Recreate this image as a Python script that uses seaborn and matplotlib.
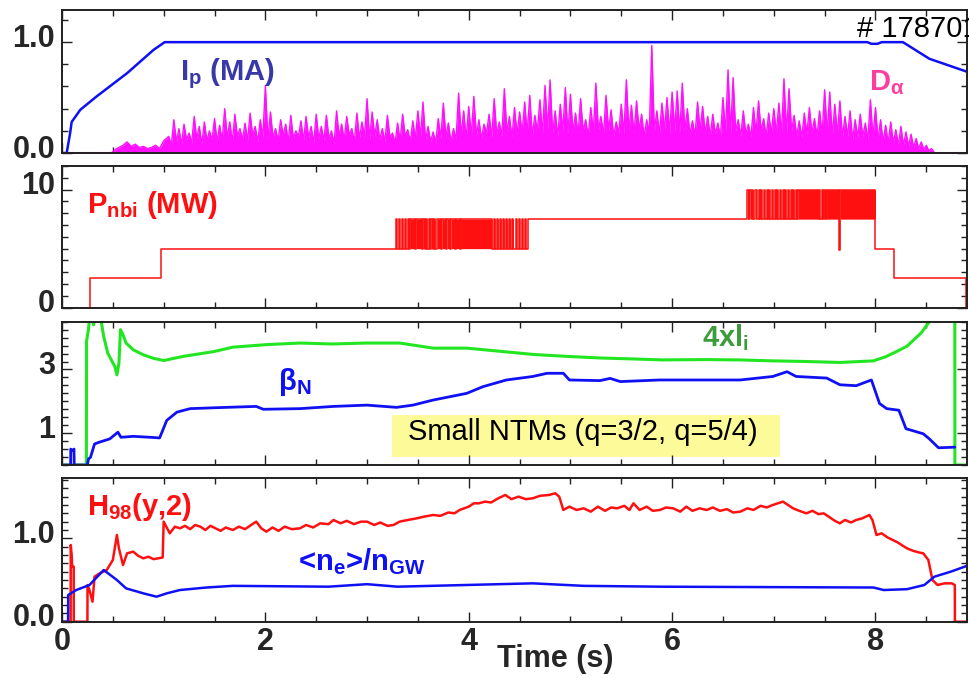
import numpy as np
import matplotlib
matplotlib.use("Agg")
import matplotlib.pyplot as plt
import matplotlib.transforms as mtransforms
from matplotlib.patches import Rectangle
from matplotlib.ticker import FixedLocator, MultipleLocator
import seaborn as sns

# ---------------------------------------------------------------- data
# Plasma current (MA)
ip_t = [0.0, 0.046, 0.08, 0.095, 0.18, 0.34, 0.64, 0.90, 1.01, 1.5, 2.5, 3.5,
        4.5, 5.5, 6.5, 7.5, 7.92, 7.96, 8.02, 8.06, 8.27, 8.53, 8.91]
ip_v = [0.0, 0.0, 0.18, 0.28, 0.39, 0.51, 0.72, 0.93, 1.0, 1.0, 1.0, 1.0,
        1.0, 1.0, 1.0, 1.0, 1.0, 0.985, 0.985, 1.0, 1.0, 0.85, 0.73]

# D-alpha: quiet start, ELM spikes sampled every 50 ms, quiet end
da_pre_t = [0.0, 0.49, 0.52, 0.56, 0.60, 0.64, 0.68, 0.72, 0.76, 0.80, 0.84,
            0.88, 0.92, 0.96, 1.00]
da_pre_v = [0.003, 0.003, 0.03, 0.05, 0.07, 0.10, 0.06, 0.08, 0.05, 0.06, 0.04,
            0.05, 0.07, 0.04, 0.11]
da_spike_t0 = 1.05
da_spike_dt = 0.05
da_peaks = [
    0.15, 0.30, 0.22, 0.26, 0.18, 0.33, 0.24, 0.28, 0.20, 0.31,
    0.25, 0.40, 0.28, 0.35, 0.22, 0.27, 0.36, 0.24, 0.30, 0.61,
    0.37, 0.22, 0.30, 0.26, 0.34, 0.20, 0.29, 0.33, 0.24, 0.35,
    0.24, 0.34, 0.20, 0.38, 0.26, 0.33, 0.22, 0.36, 0.28, 0.49,
    0.37, 0.30, 0.22, 0.34, 0.18, 0.27, 0.35, 0.21, 0.29, 0.38,
    0.46, 0.24, 0.19, 0.31, 0.45, 0.27, 0.22, 0.54, 0.38, 0.42,
    0.51, 0.30, 0.26, 0.35, 0.49, 0.28, 0.58, 0.33, 0.41, 0.37,
    0.46, 0.52, 0.34, 0.48, 0.61, 0.66, 0.38, 0.44, 0.59, 0.53,
    0.36, 0.49, 0.30, 0.41, 0.63, 0.33, 0.52, 0.39, 0.28, 0.44,
    0.66, 0.43, 0.47, 0.35, 0.30, 0.97, 0.38, 0.45, 0.50, 0.55,
    0.56, 0.63, 0.40, 0.29, 0.46, 0.42, 0.33, 0.35, 0.27, 0.50,
    0.75, 0.68, 0.30, 0.38, 0.26, 0.41, 0.47, 0.31, 0.36, 0.40,
    0.45, 0.67, 0.58, 0.34, 0.29, 0.36, 0.41, 0.31, 0.38, 0.57,
    0.55, 0.44, 0.47, 0.33, 0.38, 0.30, 0.35, 0.27, 0.48, 0.41,
    0.30, 0.25, 0.28, 0.21, 0.24, 0.19, 0.17, 0.13, 0.10, 0.07,
]
da_troughs = [
    0.07, 0.10, 0.08, 0.12, 0.09, 0.13, 0.08, 0.11, 0.12, 0.10,
    0.11, 0.14, 0.10, 0.15, 0.12, 0.11, 0.16, 0.10, 0.14, 0.12,
    0.14, 0.11, 0.16, 0.10, 0.13, 0.15, 0.11, 0.14, 0.09, 0.13,
    0.11, 0.13, 0.08, 0.15, 0.12, 0.16, 0.10, 0.13, 0.15, 0.12,
    0.15, 0.12, 0.10, 0.14, 0.09, 0.11, 0.15, 0.10, 0.13, 0.14,
    0.12, 0.10, 0.09, 0.13, 0.15, 0.10, 0.12, 0.16, 0.13, 0.15,
    0.16, 0.13, 0.18, 0.14, 0.17, 0.15, 0.19, 0.14, 0.17, 0.18,
    0.18, 0.15, 0.20, 0.17, 0.21, 0.18, 0.15, 0.20, 0.17, 0.19,
    0.17, 0.20, 0.15, 0.19, 0.21, 0.17, 0.20, 0.15, 0.18, 0.17,
    0.20, 0.17, 0.21, 0.15, 0.18, 0.20, 0.17, 0.21, 0.18, 0.20,
    0.18, 0.21, 0.17, 0.15, 0.20, 0.18, 0.15, 0.17, 0.14, 0.18,
    0.18, 0.20, 0.15, 0.17, 0.14, 0.18, 0.20, 0.15, 0.17, 0.18,
    0.17, 0.18, 0.20, 0.15, 0.14, 0.17, 0.18, 0.15, 0.17, 0.18,
    0.15, 0.17, 0.14, 0.15, 0.12, 0.14, 0.15, 0.12, 0.14, 0.12,
    0.10, 0.09, 0.09, 0.07, 0.07, 0.06, 0.05, 0.04, 0.03, 0.02,
]
da_post_t = [8.55, 8.58, 8.90]
da_post_v = [0.04, 0.003, 0.003]

# Neutral beam power (MW): steady steps plus two modulated windows
pnbi_steps_t = [0.0, 0.28, 0.97]
pnbi_steps_v = [0.0, 2.5, 5.0]
mod1_start, mod1_dt = 3.28, 0.01
mod1_pattern = ("10010010010010" "11111011111101" "10100101101001"
                "11101111011101" "11011110111111"
                "111111111111111111111111"
                "100100100100100100100100100100100100")
mod1_low, mod1_levels = 5.0, {"0": 5.0, "1": 7.5}
pnbi_mid_t = [4.58]
pnbi_mid_v = [7.5]
mod2_start, mod2_dt = 6.74, 0.01
mod2_pattern = ("1101110010" "0101001001" "0100100101" "0010010100"
                "1001010010"
                "111111111111111111"
                "1010010110"
                "111111111111d11111111111111111111111111111111111")
mod2_low, mod2_levels = 7.5, {"0": 7.5, "1": 10.0, "d": 4.9}
pnbi_end_t = [8.00, 8.18, 8.89, 8.90]
pnbi_end_v = [5.0, 2.5, 0.0, 0.0]

# 4 x internal inductance
li_t = [0.0, 0.24, 0.241, 0.26, 0.28, 0.31, 0.34, 0.37, 0.41, 0.45,
        0.52, 0.54, 0.56, 0.575, 0.60, 0.63, 0.70, 0.80, 0.90, 1.00,
        1.19, 1.49, 1.68, 2.01, 2.34, 2.66, 2.99, 3.32, 3.65, 3.98,
        4.31, 4.64, 4.97, 5.30, 5.62, 5.90, 6.33, 6.66, 6.99, 7.32,
        7.65, 7.98, 8.10, 8.18, 8.31, 8.45, 8.53, 8.65, 8.78, 8.781,
        8.90]
li_v = [0.0, 0.0, 3.88, 4.25, 4.9, 4.4, 4.9, 4.8, 4.04, 3.51,
        3.09, 2.83, 3.2, 4.25, 4.09, 3.83, 3.62, 3.46, 3.35, 3.28,
        3.41, 3.56, 3.70, 3.78, 3.83, 3.80, 3.83, 3.83, 3.67, 3.67,
        3.57, 3.47, 3.41, 3.36, 3.33, 3.30, 3.31, 3.30, 3.27, 3.25,
        3.22, 3.27, 3.40, 3.52, 3.73, 4.15, 4.50, 5.2, 5.6, 0.0,
        0.0]

# Normalised beta
bn_t = [0.0, 0.085, 0.086, 0.10, 0.118, 0.12, 0.25, 0.26, 0.28, 0.32,
        0.37, 0.47, 0.55, 0.58, 0.70, 0.87, 0.96, 1.03, 1.13, 1.26,
        1.52, 1.91, 1.98, 2.34, 2.67, 3.00, 3.29, 3.45, 3.65, 3.98,
        4.14, 4.37, 4.63, 4.77, 4.93, 4.99, 5.29, 5.39, 5.49, 5.88,
        6.33, 6.67, 6.99, 7.13, 7.22, 7.52, 7.65, 7.81, 7.96, 8.04,
        8.11, 8.23, 8.30, 8.47, 8.53, 8.62, 8.78]
bn_v = [0.0, 0.0, 0.5, 0.45, 0.5, 0.0, 0.0, 0.19, 0.24, 0.66,
        0.72, 0.82, 1.03, 0.87, 0.90, 0.87, 0.85, 1.40, 1.66, 1.77,
        1.80, 1.84, 1.75, 1.77, 1.84, 1.88, 1.81, 1.88, 2.04, 2.25,
        2.46, 2.67, 2.78, 2.88, 2.88, 2.67, 2.65, 2.72, 2.62, 2.67,
        2.67, 2.67, 2.78, 2.93, 2.78, 2.73, 2.52, 2.49, 2.67, 1.93,
        1.77, 1.72, 1.14, 0.98, 0.82, 0.54, 0.56]

# Confinement factor H98(y,2)
h98_t = [0.0, 0.085, 0.086, 0.095, 0.10, 0.115, 0.116, 0.25, 0.251, 0.27,
         0.30, 0.32, 0.37, 0.44, 0.50, 0.54, 0.56, 0.60, 0.64, 0.70,
         0.75, 0.80, 0.85, 0.90, 0.99, 1.00, 1.06, 1.11, 1.16, 1.21,
         1.26, 1.31, 1.36, 1.41, 1.46, 1.51, 1.56, 1.61, 1.68, 1.74,
         1.80, 1.86, 1.91, 1.96, 2.01, 2.07, 2.13, 2.19, 2.26, 2.34,
         2.40, 2.47, 2.54, 2.62, 2.67, 2.74, 2.80, 2.87, 2.94, 3.00,
         3.07, 3.13, 3.20, 3.26, 3.32, 3.40, 3.49, 3.56, 3.65, 3.72,
         3.80, 3.86, 3.91, 4.00, 4.05, 4.10, 4.16, 4.22, 4.29, 4.36,
         4.42, 4.49, 4.56, 4.63, 4.70, 4.79, 4.85, 4.89, 4.93, 4.99,
         5.06, 5.13, 5.20, 5.27, 5.34, 5.40, 5.46, 5.53, 5.58, 5.62,
         5.68, 5.75, 5.81, 5.88, 5.94, 6.01, 6.08, 6.14, 6.20, 6.27,
         6.34, 6.40, 6.47, 6.54, 6.60, 6.67, 6.74, 6.80, 6.87, 6.93,
         6.99, 7.04, 7.09, 7.14, 7.19, 7.25, 7.32, 7.38, 7.44, 7.49,
         7.54, 7.60, 7.65, 7.70, 7.76, 7.81, 7.87, 7.94, 7.97, 8.01,
         8.06, 8.12, 8.17, 8.22, 8.27, 8.31, 8.37, 8.43, 8.47, 8.52,
         8.56, 8.61, 8.68, 8.75, 8.78, 8.781, 8.90]
h98_v = [0.0, 0.0, 0.92, 0.80, 0.66, 0.66, 0.0, 0.0, 0.44, 0.38,
         0.24, 0.54, 0.58, 0.62, 0.74, 1.04, 0.88, 0.68, 0.82, 0.84,
         0.79, 0.76, 0.78, 0.75, 0.77, 1.20, 1.06, 1.14, 1.12, 1.15,
         1.11, 1.16, 1.14, 1.10, 1.15, 1.12, 1.09, 1.13, 1.10, 1.14,
         1.11, 1.16, 1.20, 1.12, 1.08, 1.13, 1.09, 1.14, 1.11, 1.12,
         1.16, 1.13, 1.18, 1.17, 1.22, 1.18, 1.21, 1.17, 1.20, 1.20,
         1.16, 1.19, 1.15, 1.16, 1.20, 1.22, 1.24, 1.26, 1.28, 1.27,
         1.31, 1.30, 1.34, 1.38, 1.42, 1.42, 1.44, 1.43, 1.48, 1.52,
         1.47, 1.50, 1.47, 1.48, 1.51, 1.52, 1.54, 1.50, 1.34, 1.38,
         1.34, 1.36, 1.32, 1.38, 1.33, 1.37, 1.36, 1.39, 1.34, 1.42,
         1.34, 1.38, 1.33, 1.34, 1.37, 1.36, 1.32, 1.38, 1.33, 1.36,
         1.34, 1.37, 1.33, 1.35, 1.31, 1.32, 1.36, 1.34, 1.39, 1.37,
         1.40, 1.42, 1.44, 1.40, 1.36, 1.33, 1.30, 1.33, 1.29, 1.30,
         1.26, 1.21, 1.18, 1.22, 1.19, 1.22, 1.24, 1.28, 1.22, 1.04,
         1.06, 1.01, 0.98, 0.95, 0.91, 0.88, 0.85, 0.83, 0.82, 0.74,
         0.50, 0.44, 0.46, 0.46, 0.44, 0.0, 0.0]

# Line-averaged density over Greenwald density
ne_t = [0.0, 0.06, 0.061, 0.14, 0.27, 0.41, 0.54, 0.63, 0.80, 0.93,
        1.03, 1.16, 1.42, 1.68, 2.62, 3.00, 3.30, 4.63, 5.13, 5.88,
        7.98, 8.08, 8.31, 8.48, 8.58, 8.74, 8.90]
ne_v = [0.0, 0.0, 0.32, 0.38, 0.44, 0.62, 0.50, 0.40, 0.34, 0.30,
        0.34, 0.38, 0.41, 0.43, 0.42, 0.45, 0.42, 0.46, 0.43, 0.42,
        0.41, 0.38, 0.39, 0.44, 0.54, 0.60, 0.67]

# ---------------------------------------------------------------- assemble
n_spk = len(da_peaks)
spk_t = da_spike_t0 + da_spike_dt * np.arange(n_spk)
zz_t = np.empty(2 * n_spk)
zz_v = np.empty(2 * n_spk)
zz_t[0::2], zz_t[1::2] = spk_t, spk_t + da_spike_dt / 2
zz_v[0::2], zz_v[1::2] = da_peaks, da_troughs
da_t = np.concatenate([da_pre_t, zz_t, da_post_t])
da_v = np.concatenate([da_pre_v, zz_v, da_post_v])

mod1_t = mod1_start + mod1_dt * np.arange(len(mod1_pattern))
mod1_v = np.array([mod1_levels[c] for c in mod1_pattern])
mod2_t = mod2_start + mod2_dt * np.arange(len(mod2_pattern))
mod2_v = np.array([mod2_levels[c] for c in mod2_pattern])
pnbi_t = np.concatenate([pnbi_steps_t, mod1_t, pnbi_mid_t, mod2_t, pnbi_end_t])
pnbi_v = np.concatenate([pnbi_steps_v, mod1_v, pnbi_mid_v, mod2_v, pnbi_end_v])
# floor of each modulated window (equal to the signal elsewhere)
pnbi_floor = np.concatenate([pnbi_steps_v, np.full(len(mod1_v), mod1_low),
                             pnbi_mid_v, np.full(len(mod2_v), mod2_low),
                             pnbi_end_v])

# ---------------------------------------------------------------- style
sns.set_theme(style="ticks")
plt.rcParams["font.family"] = ["Liberation Sans", "DejaVu Sans"]
plt.rcParams["font.weight"] = "bold"
plt.rcParams["mathtext.fontset"] = "custom"
plt.rcParams["mathtext.rm"] = "Liberation Sans:bold"
plt.rcParams["mathtext.it"] = "Liberation Sans:bold"
plt.rcParams["mathtext.bf"] = "Liberation Sans:bold"

BLUE = "#1010f5"
MAGENTA = "#ff10ff"
RED = "#ff1010"
GREEN = "#22e622"
SPINE = "#202020"
FS = 21
TICK_FS = 22

fig = plt.figure(figsize=(9.69, 6.78), dpi=100)
W_PX, H_PX = 969, 678
left, width = 62 / W_PX, 905 / W_PX
panel_px = [(10, 153), (166, 307.7), (321.7, 465), (478.3, 621.7)]
axes = [fig.add_axes([left, 1 - b / H_PX, width, (b - t) / H_PX])
        for t, b in panel_px]

yspec = [
    ((0, 1.29), [0.0, 1.0], ["0.0", "1.0"], 0.2),
    ((0, 12.0), [0, 10], ["0", "10"], 1.0),
    ((0, 4.5), [1, 3], ["1", "3"], 0.25),
    ((0, 1.72), [0.0, 1.0], ["0.0", "1.0"], 0.1),
]

for i, ax in enumerate(axes):
    ax.set_xlim(0, 8.9)
    ylim, yt, ytl, ymin = yspec[i]
    ax.set_ylim(*ylim)
    ax.xaxis.set_major_locator(FixedLocator([0, 2, 4, 6, 8]))
    ax.xaxis.set_minor_locator(MultipleLocator(0.5))
    ax.yaxis.set_major_locator(FixedLocator(yt))
    ax.yaxis.set_minor_locator(MultipleLocator(ymin))
    ax.tick_params(which="both", direction="in", top=True, right=True,
                   color=SPINE, width=1.0, labelbottom=(i == 3))
    ax.tick_params(which="major", length=7)
    ax.tick_params(which="minor", length=4)
    ax.tick_params(axis="y", pad=5)
    ax.tick_params(axis="x", pad=3.5)
    ax.set_yticklabels(ytl, fontsize=TICK_FS, fontweight="bold")
    if i == 3:
        ax.set_xticklabels(["0", "2", "4", "6", "8"], fontsize=TICK_FS,
                           fontweight="bold")
    for sp in ax.spines.values():
        sp.set_color(SPINE)
        sp.set_linewidth(1.4)

# ---------------------------------------------------------------- panel 1
ax = axes[0]
ax.fill_between(da_t, 0, da_v, color=MAGENTA, lw=0)
sns.lineplot(x=da_t, y=da_v, ax=ax, color=MAGENTA, lw=1.0,
             estimator=None, sort=False)
sns.lineplot(x=ip_t, y=ip_v, ax=ax, color=BLUE, lw=1.8,
             estimator=None, sort=False)
ax.text(1.16, 0.66, r"$\mathrm{I_p}$ (MA)", color="#3838a8", fontsize=FS,
        fontweight="bold", ha="left", va="baseline")
ax.text(7.94, 0.57, r"$\mathrm{D_{\alpha}}$", color="#ff3ca0", fontsize=FS,
        ha="left", va="baseline")

# ---------------------------------------------------------------- panel 2
ax = axes[1]
ax.fill_between(pnbi_t, pnbi_floor, pnbi_v, step="post", color=RED, lw=0)
sns.lineplot(x=pnbi_t, y=pnbi_v, ax=ax, color=RED, lw=1.1,
             drawstyle="steps-post", estimator=None, sort=False)
ax.text(0.25, 8.0, r"$\mathrm{P_{nbi}}$ (MW)", color=RED, fontsize=FS,
        fontweight="bold", ha="left", va="baseline")

# ---------------------------------------------------------------- panel 3
ax = axes[2]
ax.add_patch(Rectangle((3.245, 0.24), 3.815, 1.32, facecolor="#fdfa9a",
                       edgecolor="none", zorder=0.5))
sns.lineplot(x=li_t, y=li_v, ax=ax, color=GREEN, lw=2.2,
             estimator=None, sort=False)
sns.lineplot(x=bn_t, y=bn_v, ax=ax, color=BLUE, lw=2.0,
             estimator=None, sort=False)
ax.text(6.29, 3.72, r"$\mathrm{4xl_i}$", color="#3c9c3c", fontsize=FS,
        ha="left", va="baseline")
ax.text(2.12, 2.35, r"$\mathrm{\beta_N}$", color=BLUE, fontsize=FS,
        ha="left", va="baseline")
ax.text(3.40, 0.77, "Small NTMs (q=3/2, q=5/4)", color="black",
        fontsize=FS, fontweight="normal", ha="left", va="baseline")

# ---------------------------------------------------------------- panel 4
ax = axes[3]
sns.lineplot(x=h98_t, y=h98_v, ax=ax, color=RED, lw=1.8,
             estimator=None, sort=False)
sns.lineplot(x=ne_t, y=ne_v, ax=ax, color=BLUE, lw=1.8,
             estimator=None, sort=False)
ax.text(0.25, 1.28, r"$\mathrm{H_{98}}$(y,2)", color=RED, fontsize=FS,
        fontweight="bold", ha="left", va="baseline")
ax.text(2.32, 0.62, r"<$\mathrm{n_e}$>/$\mathrm{n_{GW}}$", color=BLUE,
        fontsize=FS, fontweight="bold", ha="left", va="baseline")

for ax in axes:
    ax.set_xlabel("")
    ax.set_ylabel("")

fig.text(555 / W_PX, 1 - 659 / H_PX, "Time (s)", ha="center", va="center",
         fontsize=22, fontweight="bold")
fig.text(857 / W_PX, 1 - 37 / H_PX, "# 178701", ha="left", va="baseline",
         fontsize=FS, fontweight="normal", color="black")

# y tick labels sit a little above their ticks
fig.canvas.draw()
label_lift = mtransforms.ScaledTranslation(0, 7 / 100, fig.dpi_scale_trans)
for ax in axes:
    for lab in ax.get_yticklabels():
        lab.set_transform(lab.get_transform() + label_lift)

fig.savefig("out.png", dpi=100)
